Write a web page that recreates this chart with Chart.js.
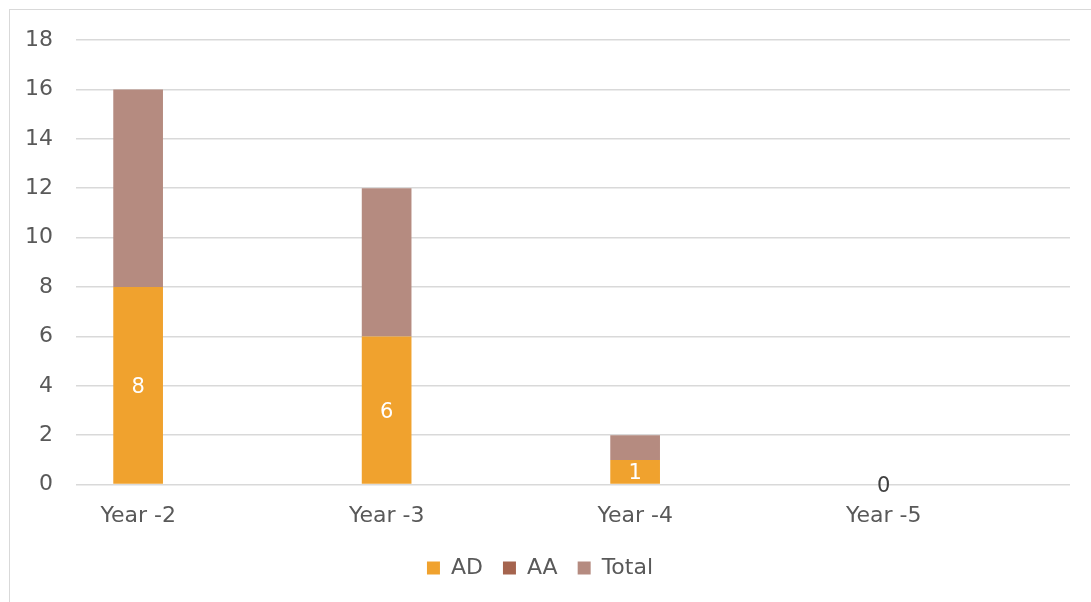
<!DOCTYPE html>
<html>
<head>
<meta charset="utf-8">
<script src="https://cdn.jsdelivr.net/npm/chart.js@4/dist/chart.umd.min.js"></script>
<style>
  html, body { margin: 0; padding: 0; background: #fff; overflow: hidden; }
  #wrap { position: absolute; left: 9px; top: 9px; width: 1100px; height: 620px; border: 1px solid #d9d9d9; background: #fff; }
  #chart { display: block; }
</style>
</head>
<body>
<div id="wrap"><canvas id="chart" width="1100" height="620"></canvas></div>
<script>
// ── Datos ────────────────────────────────────────────
const categorias = ['Year -2', 'Year -3', 'Year -4', 'Year -5'];
const serieAD = [8, 6, 1, 0];
const serieAA = [0, 0, 0, 0];
const serieTotal = [8, 6, 1, 0];
const ticksY = [0, 2, 4, 6, 8, 10, 12, 14, 16, 18];

const FONT = 'DejaVu Sans';
const GRIS = '#595959';

// ── Etiquetas de datos (AD) ──────────────────────────
const etiquetasAD = {
    id: 'etiquetasAD',
    afterDatasetsDraw(chart) {
        const ctx = chart.ctx;
        const meta = chart.getDatasetMeta(0);
        ctx.save();
        ctx.font = `21px "${FONT}"`;
        ctx.textAlign = 'center';
        ctx.textBaseline = 'middle';
        meta.data.forEach((bar, i) => {
            const v = serieAD[i];
            ctx.fillStyle = v > 0 ? '#ffffff' : '#404040';
            ctx.fillText(String(v), bar.x, (bar.y + bar.base) / 2 + 2);
        });
        ctx.restore();
    }
};

new Chart(document.getElementById('chart'), {
    type: 'bar',
    data: {
        labels: categorias,
        datasets: [
            { label: 'AD', data: serieAD, backgroundColor: '#F0A22E', stack: 'a' },
            { label: 'AA', data: serieAA, backgroundColor: '#A5644E', stack: 'b' },
            { label: 'Total', data: serieTotal, backgroundColor: '#B58B80', stack: 'a' }
        ]
    },
    options: {
        responsive: false, animation: false,
        categoryPercentage: 1, barPercentage: 0.4,
        layout: { padding: { top: 30, right: 40, left: 0, bottom: 41 } },
        plugins: {
            legend: {
                position: 'bottom',
                labels: { boxWidth: 13, boxHeight: 13, padding: 20, color: GRIS, font: { family: FONT, size: 22 } }
            },
            tooltip: { enabled: false }
        },
        scales: {
            x: {
                stacked: true,
                grid: { display: false, drawTicks: false },
                border: { display: false },
                ticks: { color: GRIS, padding: 18, labelOffset: -62, font: { family: FONT, size: 22 } },
                afterFit: s => { s.height -= 10; }
            },
            y: {
                stacked: true, min: 0, max: 18,
                afterBuildTicks: s => { s.ticks = ticksY.map(v => ({ value: v })); },
                afterFit: s => { s.width = 66; s.paddingTop = 0; s.paddingBottom = 0; },
                grid: { color: '#d9d9d9', lineWidth: 1.5, drawTicks: false },
                border: { display: false },
                ticks: { color: GRIS, padding: 23, font: { family: FONT, size: 22 } }
            }
        }
    },
    plugins: [etiquetasAD]
});
</script>
</body>
</html>
